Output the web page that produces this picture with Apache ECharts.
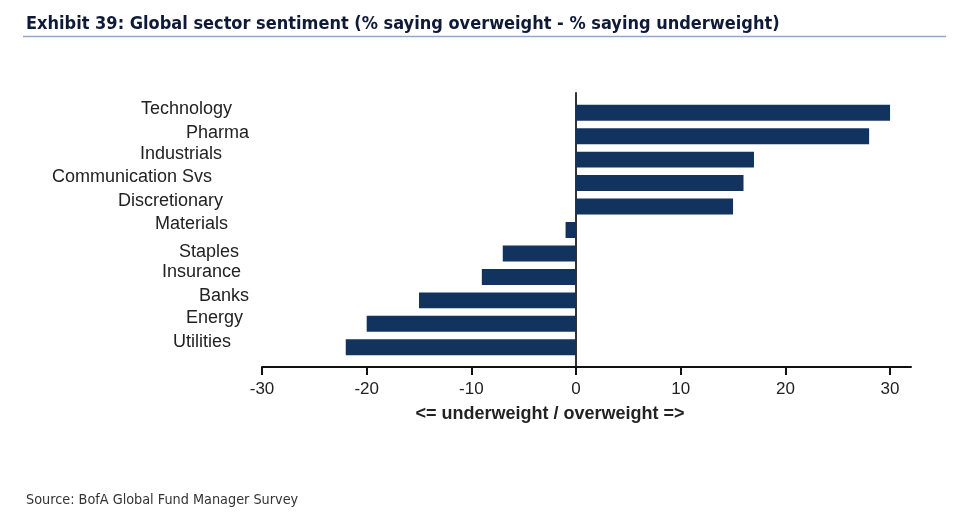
<!DOCTYPE html>
<html>
<head>
<meta charset="utf-8">
<script src="https://cdn.jsdelivr.net/npm/echarts@6/dist/echarts.min.js"></script>
<style>
html,body{margin:0;padding:0;background:#fff;}
#chart{width:959px;height:519px;}
</style>
</head>
<body>
<div id="chart"></div>
<script>
// ---- data ----
const categories = ['Technology','Pharma','Industrials','Communication Svs','Discretionary','Materials','Staples','Insurance','Banks','Energy','Utilities'];
const values = [30, 28, 17, 16, 15, -1, -7, -9, -15, -20, -22];
const tickValues = [-30, -20, -10, 0, 10, 20, 30];
const titleText = 'Exhibit 39: Global sector sentiment (% saying overweight - % saying underweight)';
const axisTitle = '<= underweight / overweight =>';
const sourceText = 'Source: BofA Global Fund Manager Survey';

// ---- label styling (as in the original layout) ----
const labelPadRight = [17, 0, 27, 37, 26, 21, 10, 8, 0, 6, 18];
const labelPadUp = [4, 3.5, 6, 6, 5.5, 6, 1, 5, 4, 5.5, 5];
const sansFont = "'Liberation Sans', Arial, sans-serif";
const narrowFont = "'DejaVu Sans Condensed', sans-serif";
const rich = {};
categories.forEach((c, i) => {
  rich['l' + i] = {
    fontSize: 18, fontFamily: sansFont, color: '#222',
    padding: [0, labelPadRight[i], labelPadUp[i] * 2, 0]
  };
});

const chart = echarts.init(document.getElementById('chart'), null, {renderer: 'canvas'});
const barColor = '#13335f';
const xMin = -30, xMax = 32;

const option = {
  animation: false,
  backgroundColor: '#ffffff',
  title: [
    {
      text: titleText, left: 21, top: 10,
      textStyle: {fontFamily: narrowFont, fontWeight: 'bold', fontSize: 18, color: '#0e1a38'}
    },
    {
      text: sourceText, left: 21, top: 488,
      textStyle: {fontFamily: narrowFont, fontWeight: 'normal', fontSize: 14.3, color: '#333'}
    }
  ],
  graphic: [
    {type: 'line', shape: {x1: 23, y1: 36.5, x2: 946, y2: 36.5}, style: {stroke: '#94a8c8', lineWidth: 1.5}}
  ],
  grid: [
    {left: 262, right: 48, top: 93, height: 274},
    {left: 262, right: 48, top: 101, height: 258}
  ],
  xAxis: [
    {
      gridIndex: 0, type: 'value', min: xMin, max: xMax, position: 'bottom',
      splitLine: {show: false},
      axisLine: {show: true, onZero: false, lineStyle: {color: '#111', width: 2}},
      axisTick: {show: true, inside: false, length: 8, customValues: tickValues, lineStyle: {color: '#111', width: 2}},
      axisLabel: {customValues: tickValues, fontSize: 17, color: '#222', margin: 14, fontFamily: sansFont},
      name: axisTitle, nameLocation: 'middle', nameGap: 38,
      nameTextStyle: {fontSize: 18, fontWeight: 'bold', color: '#222', fontFamily: sansFont, padding: [0, 73, 0, 0]}
    },
    {
      gridIndex: 1, type: 'value', min: xMin, max: xMax, show: false
    }
  ],
  yAxis: [
    {
      gridIndex: 0, type: 'value', min: 0, max: 1,
      axisLine: {show: true, onZero: true, lineStyle: {color: '#333', width: 2}},
      axisTick: {show: false}, axisLabel: {show: false}, splitLine: {show: false}
    },
    {
      gridIndex: 1, type: 'category', data: categories, inverse: true,
      axisLine: {show: false, onZero: false}, axisTick: {show: false}, splitLine: {show: false},
      axisLabel: {
        margin: 13, align: 'right', verticalAlign: 'middle',
        formatter: (v, i) => '{l' + i + '|' + v + '}',
        rich: rich
      }
    }
  ],
  series: [
    {
      type: 'bar', xAxisIndex: 1, yAxisIndex: 1, data: values,
      barCategoryGap: '32%',
      itemStyle: {color: barColor},
      z: 1
    }
  ]
};
chart.setOption(option);
</script>
</body>
</html>
